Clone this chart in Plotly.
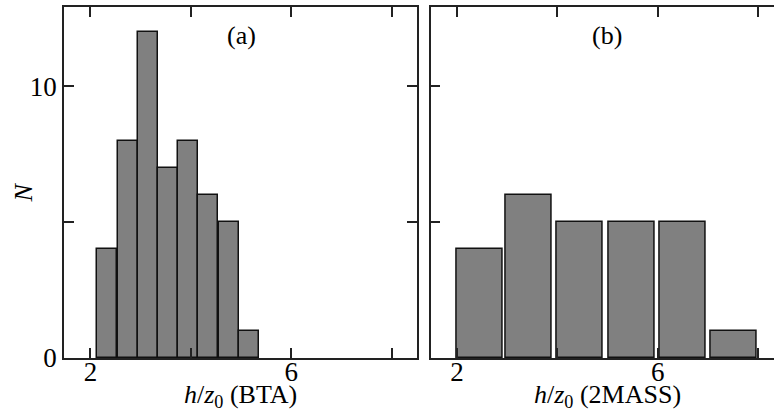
import plotly.graph_objects as go

# Panel (a): BTA
a_centers = [2.33, 2.74, 3.14, 3.54, 3.95, 4.35, 4.76, 5.16]
a_counts = [4, 8, 12, 7, 8, 6, 5, 1]
a_width = 0.40

# Panel (b): 2MASS
b_centers = [2.45, 3.43, 4.44, 5.48, 6.49, 7.51]
b_counts = [4, 6, 5, 5, 5, 1]
b_width = 0.92

x_tickvals = [2, 6]
x_ticktext = ["2", "6"]
x_minor = [4, 8]
y_tickvals = [0, 10]
y_ticktext = ["0", "10"]
y_minor = [5]

FONT = "Liberation Serif"
W, H = 774, 419
ML, MR, MT, MB = 64, 0, 7, 61
PW = W - ML - MR

fig = go.Figure()
fig.add_trace(go.Bar(x=a_centers, y=a_counts, width=a_width,
                     marker=dict(color="#808080", line=dict(color="#111111", width=1.5)),
                     xaxis="x", yaxis="y", showlegend=False))
fig.add_trace(go.Bar(x=b_centers, y=b_counts, width=b_width,
                     marker=dict(color="#808080", line=dict(color="#111111", width=1.5)),
                     xaxis="x2", yaxis="y2", showlegend=False))

ax_common = dict(showline=True, linecolor="#222222", linewidth=1.5,
                 ticks="inside", ticklen=10, tickwidth=1.5, tickcolor="#222222",
                 showgrid=False, zeroline=False,
                 tickfont=dict(family=FONT, size=27, color="black"))

def minor(vals):
    return dict(tickmode="array", tickvals=vals, ticks="inside", ticklen=10,
                tickwidth=1.5, tickcolor="#222222", showgrid=False)

a_right = (417 - ML) / PW
b_left = (430.7 - ML) / PW

fig.update_layout(
    width=W, height=H,
    margin=dict(l=ML, r=MR, t=MT, b=MB, autoexpand=False),
    paper_bgcolor="white", plot_bgcolor="white",
    font=dict(family=FONT, color="black"),
    bargap=0,
    xaxis=dict(domain=[0, a_right], range=[1.474, 8.504], tickmode="array",
               tickvals=x_tickvals, ticktext=x_ticktext, minor=minor(x_minor),
               mirror="ticks", anchor="y", ticklabelstandoff=-11, **ax_common),
    yaxis=dict(domain=[0, 1], range=[0, 12.92], tickmode="array",
               tickvals=y_tickvals, ticktext=y_ticktext, minor=minor(y_minor),
               mirror="ticks", anchor="x", **ax_common),
    xaxis2=dict(domain=[b_left, 1], range=[1.474, 8.317], tickmode="array",
                tickvals=x_tickvals, ticktext=x_ticktext, minor=minor(x_minor),
                mirror="ticks", anchor="y2", ticklabelstandoff=-11, **ax_common),
    yaxis2=dict(domain=[0, 1], range=[0, 12.92], tickmode="array",
                tickvals=y_tickvals, showticklabels=False, minor=minor(y_minor),
                mirror=False, anchor="x2", **ax_common),
)

def px_x(px):
    return (px - ML) / PW

def px_y(py):
    return 1 - (py - MT) / (H - MT - MB)

anns = [
    dict(text="(a)", x=px_x(241), y=px_y(35), size=26),
    dict(text="(b)", x=px_x(607), y=px_y(35), size=26),
    dict(text="<i>h</i>/<i>z</i><sub>0</sub> (BTA)", x=px_x(240), y=px_y(396), size=26),
    dict(text="<i>h</i>/<i>z</i><sub>0</sub> (2MASS)", x=px_x(607), y=px_y(396), size=26),
]
for a in anns:
    fig.add_annotation(text=a["text"], x=a["x"], y=a["y"], xref="paper", yref="paper",
                       xanchor="center", yanchor="middle", showarrow=False,
                       font=dict(family=FONT, size=a["size"], color="black"))
fig.add_annotation(text="<i>N</i>", x=px_x(22.5), y=px_y(193), xref="paper", yref="paper",
                   xanchor="center", yanchor="middle", showarrow=False, textangle=-90,
                   font=dict(family=FONT, size=26, color="black"))

fig.write_html("out.html")
